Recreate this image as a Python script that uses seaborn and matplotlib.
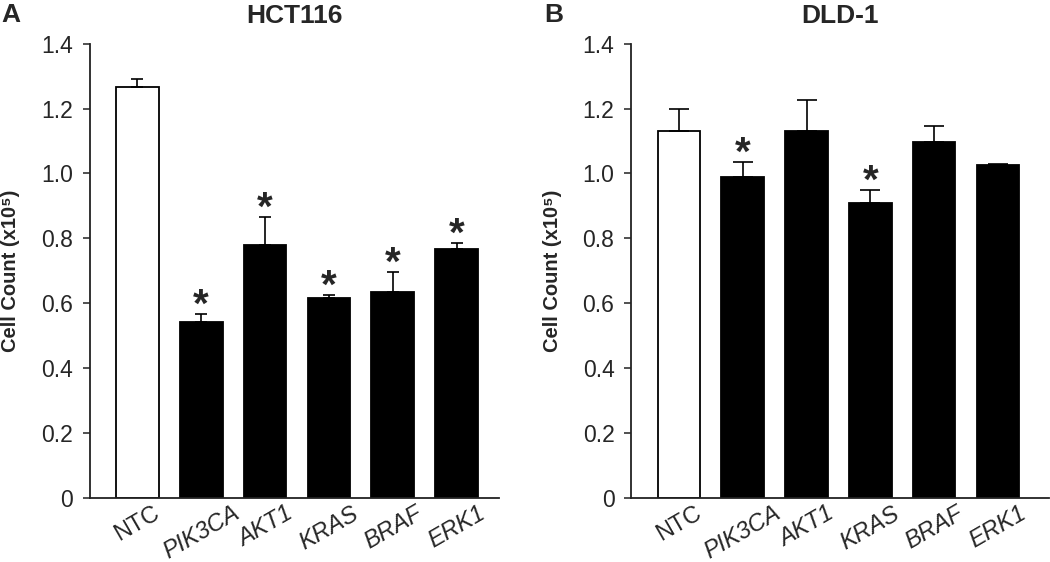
import matplotlib
matplotlib.use("Agg")
import matplotlib.pyplot as plt
import numpy as np
import seaborn as sns

categories = ["NTC", "PIK3CA", "AKT1", "KRAS", "BRAF", "ERK1"]

hct_means = [1.267, 0.543, 0.779, 0.615, 0.634, 0.767]
hct_err = [0.023, 0.023, 0.087, 0.010, 0.063, 0.017]
hct_sig = [False, True, True, True, True, True]

dld_means = [1.131, 0.988, 1.132, 0.908, 1.098, 1.026]
dld_err = [0.068, 0.046, 0.094, 0.041, 0.048, 0.004]
dld_sig = [False, True, False, True, False, False]

yticks = [0, 0.2, 0.4, 0.6, 0.8, 1.0, 1.2, 1.4]
ytick_labels = ["0", "0.2", "0.4", "0.6", "0.8", "1.0", "1.2", "1.4"]

bar_colors = ["white", "black", "black", "black", "black", "black"]

sns.set_style("ticks")
plt.rcParams["font.family"] = ["Liberation Sans", "DejaVu Sans"]


def draw_panel(ax, means, errs, sig, title, xlim, label_x, cap):
  sns.barplot(x=categories, y=means, hue=categories, palette=bar_colors,
              legend=False, width=0.67, edgecolor="black", linewidth=1.3, ax=ax)
  pos = np.arange(len(categories))
  ax.errorbar(pos, means, yerr=[np.zeros(len(errs)), errs], fmt="none",
              ecolor="black", elinewidth=1.2, capsize=cap, capthick=1.2, zorder=1)
  for i, s in enumerate(sig):
    if s:
      ax.annotate("*", xy=(i, means[i] + errs[i]), xytext=(0, -2),
                  textcoords="offset points", ha="center", va="baseline",
                  fontsize=29, fontweight="bold")
  ax.set_ylim(0, 1.4)
  ax.set_xlim(*xlim)
  ax.set_yticks(yticks)
  ax.set_yticklabels(ytick_labels, fontsize=16.5)
  ax.tick_params(axis="y", direction="out", length=5, width=1.1, pad=7,
                 color="#222222")
  ax.tick_params(axis="x", length=0, pad=3)
  ax.set_xticks(pos)
  ax.set_xticklabels(categories, rotation=30, ha="center", fontsize=17)
  for lab in ax.get_xticklabels()[1:]:
    lab.set_style("italic")
  for sp in ["left", "bottom"]:
    ax.spines[sp].set_linewidth(1.3)
    ax.spines[sp].set_color("#222222")
  sns.despine(ax=ax)
  ax.set_ylabel("Cell Count (x10⁵)", fontsize=14.5, fontweight="bold")
  ax.yaxis.set_label_coords(label_x, 0.5)
  ax.set_title(title, fontsize=19, fontweight="bold", pad=15)


fig = plt.figure(figsize=(10.5, 5.62), dpi=100)
ax_a = fig.add_axes([0.0857, 0.1144, 0.3895, 0.8078])
ax_b = fig.add_axes([0.601, 0.1144, 0.398, 0.8078])

draw_panel(ax_a, hct_means, hct_err, hct_sig, "HCT116", (-0.74, 5.66), -0.172, 4.5)
draw_panel(ax_b, dld_means, dld_err, dld_sig, "DLD-1", (-0.75, 5.8), -0.165, 7)

fig.text(0.001, 0.995, "A", fontsize=19, fontweight="bold", va="top", ha="left")
fig.text(0.518, 0.995, "B", fontsize=19, fontweight="bold", va="top", ha="left")

fig.savefig("out.png", dpi=100)
plt.close(fig)
